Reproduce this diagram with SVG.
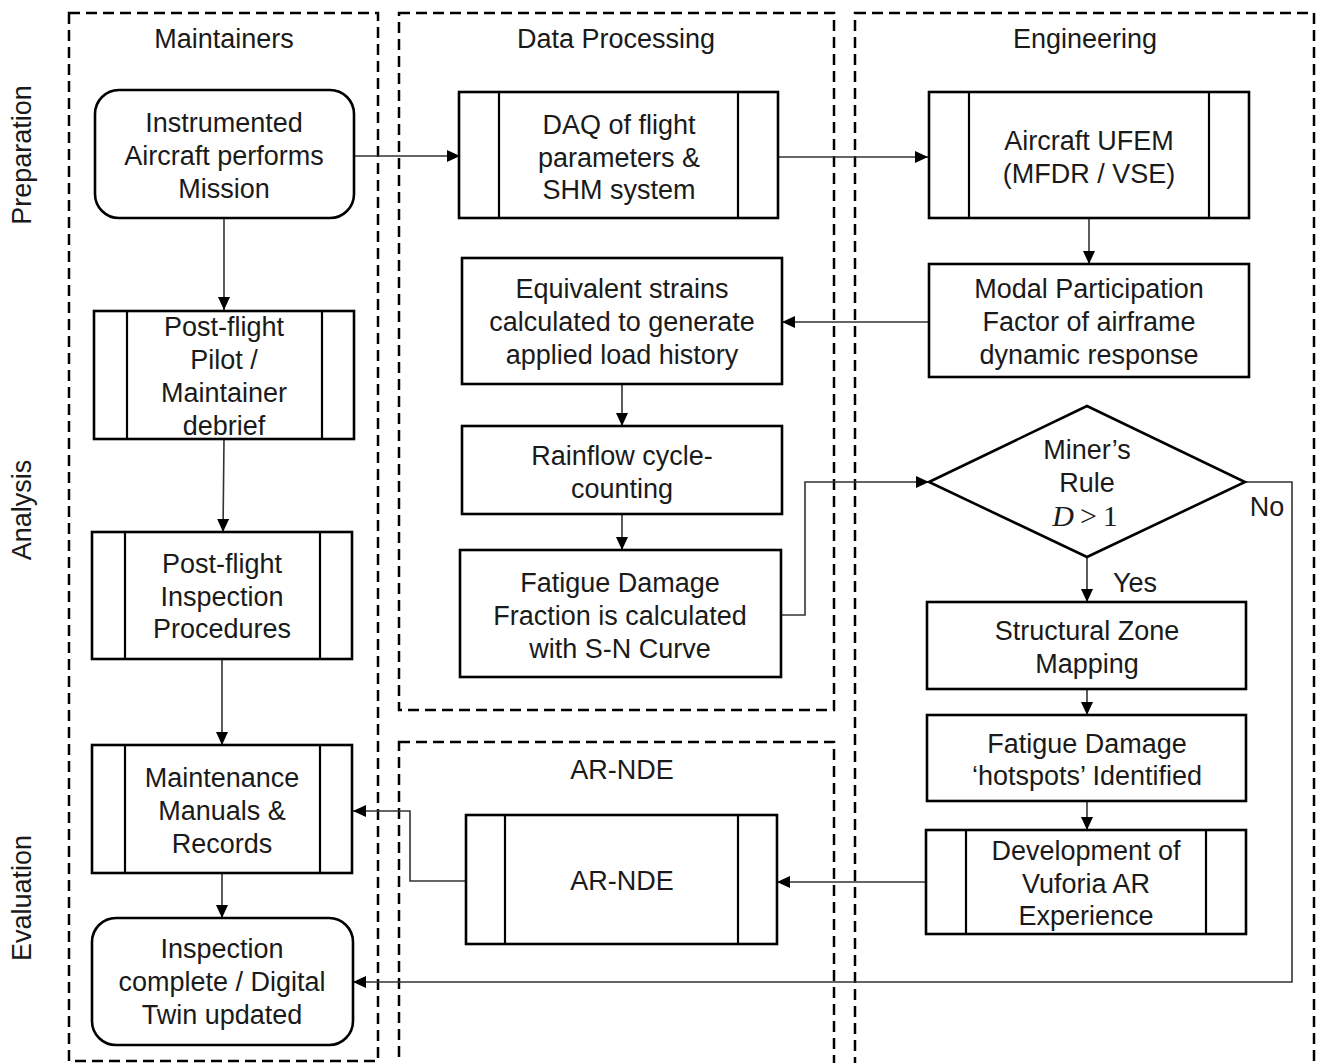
<svg xmlns="http://www.w3.org/2000/svg" width="1317" height="1063" viewBox="0 0 1317 1063">
<style>
.lane{fill:none;stroke:#000;stroke-width:2.5;stroke-dasharray:11 6}
.box{fill:#fff;stroke:#000;stroke-width:2.6}
.bar{stroke:#000;stroke-width:2.2}
.t{font-family:"Liberation Sans",Arial,sans-serif;font-size:27px;fill:#1a1a1a;text-anchor:middle}
.c{fill:none;stroke:#333;stroke-width:1.6}
</style>
<defs>
<marker id="ah" markerWidth="14" markerHeight="12" refX="13" refY="6" orient="auto" markerUnits="userSpaceOnUse">
<path d="M0,0 L13,6 L0,12 Z" fill="#000"/>
</marker>
</defs>

<g id="lanes">
<rect class="lane" x="69" y="13" width="309" height="1048"/>
<rect class="lane" x="399" y="13" width="435" height="697"/>
<rect class="lane" x="855" y="13" width="459" height="1080"/>
<rect class="lane" x="399" y="742" width="435" height="360"/>
<text class="t" x="224" y="48">Maintainers</text>
<text class="t" x="616" y="48">Data Processing</text>
<text class="t" x="1085" y="48">Engineering</text>
<text class="t" x="622" y="779">AR-NDE</text>
<text class="t" transform="translate(31,155) rotate(-90)">Preparation</text>
<text class="t" transform="translate(31,510) rotate(-90)">Analysis</text>
<text class="t" transform="translate(31,898) rotate(-90)">Evaluation</text>
</g>

<g id="connectors">
<line class="c" x1="354" y1="156" x2="460" y2="156" marker-end="url(#ah)"/>
<line class="c" x1="778" y1="157" x2="928" y2="157" marker-end="url(#ah)"/>
<line class="c" x1="1089" y1="218" x2="1089" y2="264" marker-end="url(#ah)"/>
<line class="c" x1="929" y1="322" x2="782" y2="322" marker-end="url(#ah)"/>
<line class="c" x1="622" y1="384" x2="622" y2="426" marker-end="url(#ah)"/>
<line class="c" x1="622" y1="514" x2="622" y2="550" marker-end="url(#ah)"/>
<polyline class="c" points="781,615 805,615 805,482 929,482" marker-end="url(#ah)"/>
<line class="c" x1="1087" y1="557" x2="1087" y2="602" marker-end="url(#ah)"/>
<line class="c" x1="1087" y1="689" x2="1087" y2="715" marker-end="url(#ah)"/>
<line class="c" x1="1087" y1="801" x2="1087" y2="830" marker-end="url(#ah)"/>
<line class="c" x1="926" y1="882" x2="777" y2="882" marker-end="url(#ah)"/>
<polyline class="c" points="466,881 410,881 410,811 353,811" marker-end="url(#ah)"/>
<polyline class="c" points="1245,482 1292,482 1292,982 353,982" marker-end="url(#ah)"/>
<line class="c" x1="224" y1="218" x2="224" y2="310" marker-end="url(#ah)"/>
<line class="c" x1="224" y1="439" x2="223" y2="532" marker-end="url(#ah)"/>
<line class="c" x1="222" y1="659" x2="222" y2="745" marker-end="url(#ah)"/>
<line class="c" x1="222" y1="873" x2="222" y2="918" marker-end="url(#ah)"/>
<text class="t" x="1135" y="592">Yes</text>
<text class="t" x="1267" y="516">No</text>
</g>

<g id="n-instrumented">
<rect class="box" x="95" y="90" width="259" height="128" rx="24"/>
<text class="t" x="224" y="132">Instrumented</text>
<text class="t" x="224" y="165">Aircraft performs</text>
<text class="t" x="224" y="198">Mission</text>
</g>

<g id="n-daq">
<rect class="box" x="459" y="92" width="319" height="126"/>
<line class="bar" x1="499" y1="92" x2="499" y2="218"/>
<line class="bar" x1="738" y1="92" x2="738" y2="218"/>
<text class="t" x="619" y="134">DAQ of flight</text>
<text class="t" x="619" y="167">parameters &amp;</text>
<text class="t" x="619" y="199">SHM system</text>
</g>

<g id="n-ufem">
<rect class="box" x="929" y="92" width="320" height="126"/>
<line class="bar" x1="969" y1="92" x2="969" y2="218"/>
<line class="bar" x1="1209" y1="92" x2="1209" y2="218"/>
<text class="t" x="1089" y="150">Aircraft UFEM</text>
<text class="t" x="1089" y="183">(MFDR / VSE)</text>
</g>

<g id="n-modal">
<rect class="box" x="929" y="264" width="320" height="113"/>
<text class="t" x="1089" y="298">Modal Participation</text>
<text class="t" x="1089" y="331">Factor of airframe</text>
<text class="t" x="1089" y="364">dynamic response</text>
</g>

<g id="n-equivalent">
<rect class="box" x="462" y="258" width="320" height="126"/>
<text class="t" x="622" y="298">Equivalent strains</text>
<text class="t" x="622" y="331">calculated to generate</text>
<text class="t" x="622" y="364">applied load history</text>
</g>

<g id="n-rainflow">
<rect class="box" x="462" y="426" width="320" height="88"/>
<text class="t" x="622" y="465">Rainflow cycle-</text>
<text class="t" x="622" y="498">counting</text>
</g>

<g id="n-fatigue">
<rect class="box" x="460" y="550" width="321" height="127"/>
<text class="t" x="620" y="592">Fatigue Damage</text>
<text class="t" x="620" y="625">Fraction is calculated</text>
<text class="t" x="620" y="658">with S-N Curve</text>
</g>

<g id="n-pilot">
<rect class="box" x="94" y="311" width="260" height="128"/>
<line class="bar" x1="127" y1="311" x2="127" y2="439"/>
<line class="bar" x1="322" y1="311" x2="322" y2="439"/>
<text class="t" x="224" y="336">Post-flight</text>
<text class="t" x="224" y="369">Pilot /</text>
<text class="t" x="224" y="402">Maintainer</text>
<text class="t" x="224" y="435">debrief</text>
</g>

<g id="n-inspection-proc">
<rect class="box" x="92" y="532" width="260" height="127"/>
<line class="bar" x1="125" y1="532" x2="125" y2="659"/>
<line class="bar" x1="320" y1="532" x2="320" y2="659"/>
<text class="t" x="222" y="573">Post-flight</text>
<text class="t" x="222" y="606">Inspection</text>
<text class="t" x="222" y="638">Procedures</text>
</g>

<g id="n-manuals">
<rect class="box" x="92" y="745" width="260" height="128"/>
<line class="bar" x1="125" y1="745" x2="125" y2="873"/>
<line class="bar" x1="320" y1="745" x2="320" y2="873"/>
<text class="t" x="222" y="787">Maintenance</text>
<text class="t" x="222" y="820">Manuals &amp;</text>
<text class="t" x="222" y="853">Records</text>
</g>

<g id="n-complete">
<rect class="box" x="92" y="918" width="261" height="127" rx="24"/>
<text class="t" x="222" y="958">Inspection</text>
<text class="t" x="222" y="991">complete / Digital</text>
<text class="t" x="222" y="1024">Twin updated</text>
</g>

<g id="n-miner">
<polygon class="box" points="929,482 1087,406 1245,482 1087,557"/>
<text class="t" x="1087" y="459">Miner’s</text>
<text class="t" x="1087" y="492">Rule</text>
<text x="1085" y="526" style="font-family:'Liberation Serif','Times New Roman',serif;font-size:30px;fill:#1a1a1a;text-anchor:middle"><tspan font-style="italic">D</tspan><tspan dx="6">&gt;</tspan><tspan dx="6">1</tspan></text>
</g>

<g id="n-zone">
<rect class="box" x="927" y="602" width="319" height="87"/>
<text class="t" x="1087" y="640">Structural Zone</text>
<text class="t" x="1087" y="673">Mapping</text>
</g>

<g id="n-hotspots">
<rect class="box" x="927" y="715" width="319" height="86"/>
<text class="t" x="1087" y="753">Fatigue Damage</text>
<text class="t" x="1087" y="785">‘hotspots’ Identified</text>
</g>

<g id="n-vuforia">
<rect class="box" x="926" y="830" width="320" height="104"/>
<line class="bar" x1="966" y1="830" x2="966" y2="934"/>
<line class="bar" x1="1206" y1="830" x2="1206" y2="934"/>
<text class="t" x="1086" y="860">Development of</text>
<text class="t" x="1086" y="893">Vuforia AR</text>
<text class="t" x="1086" y="925">Experience</text>
</g>

<g id="n-arnde">
<rect class="box" x="466" y="815" width="311" height="129"/>
<line class="bar" x1="505" y1="815" x2="505" y2="944"/>
<line class="bar" x1="738" y1="815" x2="738" y2="944"/>
<text class="t" x="622" y="890">AR-NDE</text>
</g>
</svg>
